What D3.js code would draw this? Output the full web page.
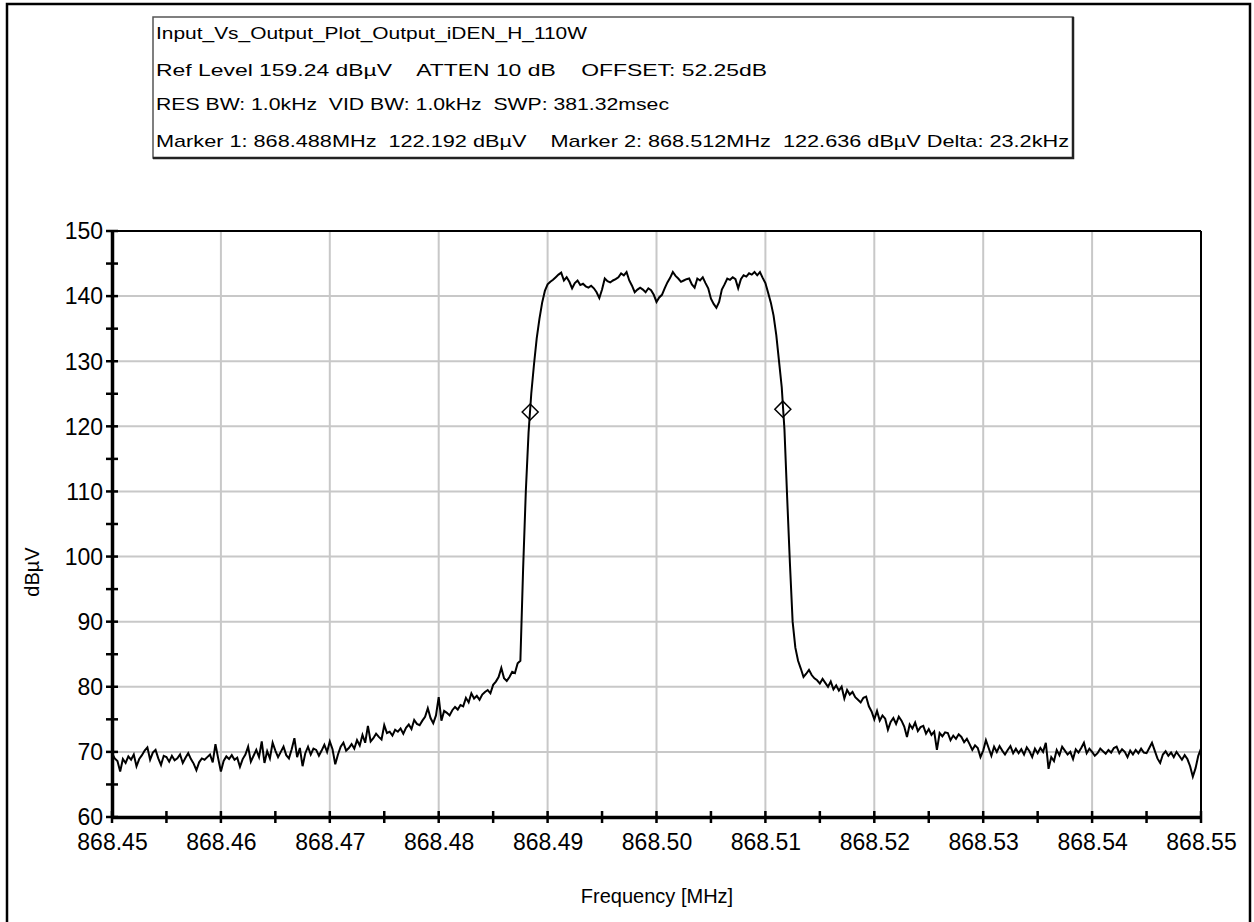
<!DOCTYPE html>
<html>
<head>
<meta charset="utf-8">
<script src="https://cdn.jsdelivr.net/npm/d3@7/dist/d3.min.js"></script>
<style>
  html, body { margin: 0; padding: 0; background: #fff; }
  svg { display: block; }
  text { font-family: "Liberation Sans", Arial, sans-serif; fill: #000; }
  .hdr { white-space: pre; }
</style>
</head>
<body>
<svg id="chart" width="1254" height="922"></svg>
<script>
// ---- Sweep settings ----
const startFreq = 868.45;   // MHz
const stopFreq = 868.55;    // MHz
const sweepPoints = 401;

// ---- Trace amplitude (dBµV), one value per sweep point ----
const traceLevel = [
  69.8, 69.0, 68.6, 67.0, 68.9, 68.3, 69.3, 68.8, 69.6, 67.8, 68.9, 69.5, 70.2, 70.7, 68.8, 69.9, 70.3, 69.0, 68.0, 69.4,
  69.2, 68.5, 69.4, 68.7, 69.0, 69.6, 68.3, 69.1, 69.8, 68.9, 68.2, 67.2, 68.4, 69.0, 68.8, 69.2, 69.6, 68.4, 71.2, 69.0,
  67.0, 68.6, 69.3, 68.9, 69.5, 68.8, 69.1, 67.7, 68.9, 69.6, 70.8, 68.5, 69.4, 70.3, 69.2, 71.6, 68.3, 70.1, 69.0, 71.4,
  70.2, 69.2, 70.0, 70.8, 69.5, 69.0, 70.4, 72.1, 69.2, 70.6, 67.8, 69.8, 70.8, 69.6, 70.5, 70.3, 69.4, 70.2, 71.1, 70.0,
  71.6, 70.4, 68.1, 69.6, 70.8, 71.4, 70.2, 70.6, 71.2, 70.5, 71.8, 71.0, 72.6, 71.4, 74.0, 71.6, 72.1, 72.8, 72.3, 71.9,
  74.1, 72.9, 73.1, 72.5, 73.4, 73.1, 73.6, 72.8, 73.7, 74.2, 73.5, 74.9, 74.3, 74.1, 74.8, 75.4, 76.7, 75.2, 74.4, 75.6,
  78.4, 74.8, 76.3, 76.0, 75.6, 76.4, 76.9, 76.5, 77.2, 77.0, 78.3, 77.6, 79.0, 78.2, 78.6, 78.0, 78.8, 79.2, 79.5, 79.0,
  80.3, 80.8, 81.5, 82.9, 81.3, 80.9, 81.5, 82.3, 82.1, 83.6, 84.0, 98.0, 110.0, 119.0, 125.0, 129.5, 133.5, 136.5, 139.0, 140.8,
  141.8, 142.2, 142.5, 142.9, 143.3, 143.6, 142.4, 142.9, 142.2, 141.2, 142.0, 142.4, 141.7, 141.9, 141.5, 141.3, 141.6, 141.2, 140.6, 139.7,
  141.0, 142.7, 142.3, 142.1, 142.4, 142.6, 142.9, 143.5, 143.2, 143.7, 142.4, 141.6, 140.6, 141.0, 141.3, 141.0, 140.6, 141.2, 140.9, 140.2,
  139.1, 139.8, 140.2, 141.2, 142.1, 142.8, 143.7, 143.1, 142.7, 142.2, 142.4, 142.6, 142.7, 141.8, 141.3, 142.7, 142.4, 142.9, 142.0, 141.2,
  139.6, 138.8, 138.2, 139.1, 141.0, 141.8, 142.7, 142.5, 142.9, 142.6, 141.2, 142.6, 143.2, 143.0, 143.5, 143.3, 143.7, 143.2, 143.7, 142.8,
  142.0, 140.5, 139.0, 137.0, 134.0, 130.0, 126.0, 119.5, 109.0, 99.0, 90.0, 86.0, 84.0, 82.8, 81.5, 82.0, 82.6, 81.8, 81.3, 81.0,
  80.5, 81.2, 80.6, 80.0, 80.8, 79.6, 80.2, 79.4, 80.0, 78.2, 79.5, 78.8, 79.2, 78.4, 78.0, 77.6, 78.3, 78.5, 77.0, 76.2,
  75.0, 76.3, 74.8, 75.6, 75.1, 73.4, 74.6, 75.2, 74.3, 75.4, 74.8, 73.9, 72.3, 74.2, 73.6, 74.5, 73.2, 73.8, 74.0, 72.8,
  73.5, 72.6, 73.1, 70.3, 72.9, 72.4, 73.0, 72.9, 71.8, 72.5, 72.0, 72.7, 72.3, 71.5, 72.0, 71.2, 70.3, 71.0, 70.6, 69.2,
  70.2, 71.8, 70.6, 69.4, 70.8, 70.0, 70.9, 70.2, 69.6, 70.3, 70.9, 69.8, 70.5, 69.8, 70.4, 69.6, 70.7, 70.1, 69.2, 70.5,
  69.8, 70.6, 70.0, 71.4, 67.4, 69.2, 68.6, 70.3, 69.5, 70.8, 70.2, 69.6, 70.0, 68.9, 70.4, 69.9, 70.6, 71.4, 69.8, 70.5,
  70.0, 69.4, 69.8, 70.5, 70.1, 69.7, 70.3, 69.9, 70.6, 70.8, 69.8, 70.4, 70.0, 69.2, 70.2, 69.6, 70.3, 69.8, 70.5, 69.9,
  69.8, 70.6, 71.4, 70.2, 69.0, 68.3, 69.6, 70.1, 69.4, 69.9, 69.2, 70.0, 69.4, 68.8, 69.5, 68.9, 67.8, 66.2, 67.5, 69.4, 70.5
];

// ---- Markers ----
const markerNames = ["Marker 1", "Marker 2"];
const markerFreq = [868.4884, 868.5116];     // MHz
const markerLevel = [122.192, 122.636];      // dBµV

// ---- Axis ticks ----
const xTicks = [868.45, 868.46, 868.47, 868.48, 868.49, 868.50, 868.51, 868.52, 868.53, 868.54, 868.55];
const xMinorTicks = [868.455, 868.465, 868.475, 868.485, 868.495, 868.505, 868.515, 868.525, 868.535, 868.545];
const yTicks = [60, 70, 80, 90, 100, 110, 120, 130, 140, 150];
const yMinorTicks = [65, 75, 85, 95, 105, 115, 125, 135, 145];

// ---- Instrument settings shown in the header ----
const traceTitle = "Input_Vs_Output_Plot_Output_iDEN_H_110W";
const refLevel = "159.24";
const attenDb = "10";
const offsetDb = "52.25";
const resBw = "1.0kHz";
const vidBw = "1.0kHz";
const sweepTime = "381.32msec";

const svg = d3.select("#chart");

// Outer window frame
svg.append("path")
  .attr("d", "M7,926 V4 H1250 V926")
  .attr("fill", "none").attr("stroke", "#000").attr("stroke-width", 2.5);

// Plot area
const plot = { left: 112, right: 1201, top: 231, bottom: 817 };
const x = d3.scaleLinear().domain([startFreq, stopFreq]).range([plot.left, plot.right]);
const y = d3.scaleLinear().domain([60, 150]).range([plot.bottom, plot.top]);

// Grid
const grid = svg.append("g");
grid.selectAll("line.v").data(xTicks.slice(1, -1)).join("line")
  .attr("x1", d => x(d)).attr("x2", d => x(d))
  .attr("y1", plot.top).attr("y2", plot.bottom)
  .attr("stroke", "#c8c8c8").attr("stroke-width", 2);
grid.selectAll("line.h").data(yTicks.slice(1, -1)).join("line")
  .attr("x1", plot.left).attr("x2", plot.right)
  .attr("y1", d => y(d)).attr("y2", d => y(d))
  .attr("stroke", "#c8c8c8").attr("stroke-width", 2);

// Top and right borders
svg.append("line").attr("x1", plot.left).attr("x2", plot.right)
  .attr("y1", plot.top).attr("y2", plot.top).attr("stroke", "#000").attr("stroke-width", 2);
svg.append("line").attr("x1", plot.right).attr("x2", plot.right)
  .attr("y1", plot.top).attr("y2", plot.bottom).attr("stroke", "#000").attr("stroke-width", 2);

// Trace
const freqs = d3.range(sweepPoints).map(i => startFreq + i * (stopFreq - startFreq) / (sweepPoints - 1));
const line = d3.line().x((d, i) => x(freqs[i])).y(d => y(d));
svg.append("path")
  .datum(traceLevel)
  .attr("d", line)
  .attr("fill", "none").attr("stroke", "#000").attr("stroke-width", 2)
  .attr("stroke-linejoin", "miter");

// Marker diamonds
svg.selectAll("path.marker").data(markerFreq).join("path")
  .attr("class", "marker")
  .attr("d", (d, i) => {
    const cx = x(d), cy = y(markerLevel[i]);
    return `M${cx - 8},${cy} L${cx},${cy - 8} L${cx + 8},${cy} L${cx},${cy + 8} Z`;
  })
  .attr("fill", "none").attr("stroke", "#000").attr("stroke-width", 1.5);

// Y axis
const yAxis = svg.append("g")
  .attr("transform", `translate(${plot.left},0)`)
  .call(d3.axisLeft(y).tickValues(yTicks).tickSize(0).tickPadding(9).tickFormat(d3.format("d")));
yAxis.select(".domain").attr("stroke", "#000").attr("stroke-width", 3.5);
yAxis.selectAll("text").style("font-size", "23px").attr("font-family", null).attr("dy", "0.34em");
yAxis.selectAll("line.mk").data(yTicks.concat(yMinorTicks)).join("line")
  .attr("class", "mk")
  .attr("x1", -6).attr("x2", 6)
  .attr("y1", d => y(d)).attr("y2", d => y(d))
  .attr("stroke", "#000").attr("stroke-width", 2.5);

// X axis
const xAxis = svg.append("g")
  .attr("transform", `translate(0,${plot.bottom})`)
  .call(d3.axisBottom(x).tickValues(xTicks).tickSize(0).tickPadding(17).tickFormat(d3.format(".2f")));
xAxis.select(".domain").attr("stroke", "#000").attr("stroke-width", 3.5);
xAxis.selectAll("text").style("font-size", "23px").attr("font-family", null).attr("dy", "0.71em");
xAxis.selectAll("line.mk").data(xTicks.concat(xMinorTicks)).join("line")
  .attr("class", "mk")
  .attr("x1", d => x(d)).attr("x2", d => x(d))
  .attr("y1", -6).attr("y2", 6)
  .attr("stroke", "#000").attr("stroke-width", 2.5);

// Axis titles
svg.append("text")
  .attr("transform", "translate(39,572) rotate(-90)")
  .attr("text-anchor", "middle")
  .style("font-size", "20px")
  .text("dBµV");
svg.append("text")
  .attr("x", 657).attr("y", 903)
  .attr("text-anchor", "middle")
  .style("font-size", "20px")
  .text("Frequency [MHz]");

// Header box with instrument settings
const box = { left: 153, top: 17, right: 1073, bottom: 158 };
svg.append("rect")
  .attr("x", box.left).attr("y", box.top)
  .attr("width", box.right - box.left).attr("height", box.bottom - box.top)
  .attr("fill", "#fff").attr("stroke", "#555").attr("stroke-width", 1.5);
svg.append("path")
  .attr("d", `M${box.left},${box.bottom} H${box.right} V${box.top}`)
  .attr("fill", "none").attr("stroke", "#222").attr("stroke-width", 2.5);

const fmtDelta = d3.format(".1f");
const deltaKHz = (markerFreq[1] - markerFreq[0]) * 1000;
const headerLines = [
  { text: traceTitle, w: 431 },
  { text: `Ref Level ${refLevel} dBµV    ATTEN ${attenDb} dB    OFFSET: ${offsetDb}dB`, w: 611 },
  { text: `RES BW: ${resBw}  VID BW: ${vidBw}  SWP: ${sweepTime}`, w: 513 },
  { text: `${markerNames[0]}: ${markerFreq[0].toFixed(3)}MHz  ${markerLevel[0].toFixed(3)} dBµV    ` +
          `${markerNames[1]}: ${markerFreq[1].toFixed(3)}MHz  ${markerLevel[1].toFixed(3)} dBµV Delta: ${fmtDelta(deltaKHz)}kHz`, w: 913 }
];
const baselines = [39, 76, 110, 147];
svg.selectAll("text.hdr").data(headerLines).join("text")
  .attr("class", "hdr")
  .attr("x", 156)
  .attr("y", (d, i) => baselines[i])
  .attr("textLength", d => d.w)
  .attr("lengthAdjust", "spacingAndGlyphs")
  .style("font-size", "17px")
  .text(d => d.text);
</script>
</body>
</html>
